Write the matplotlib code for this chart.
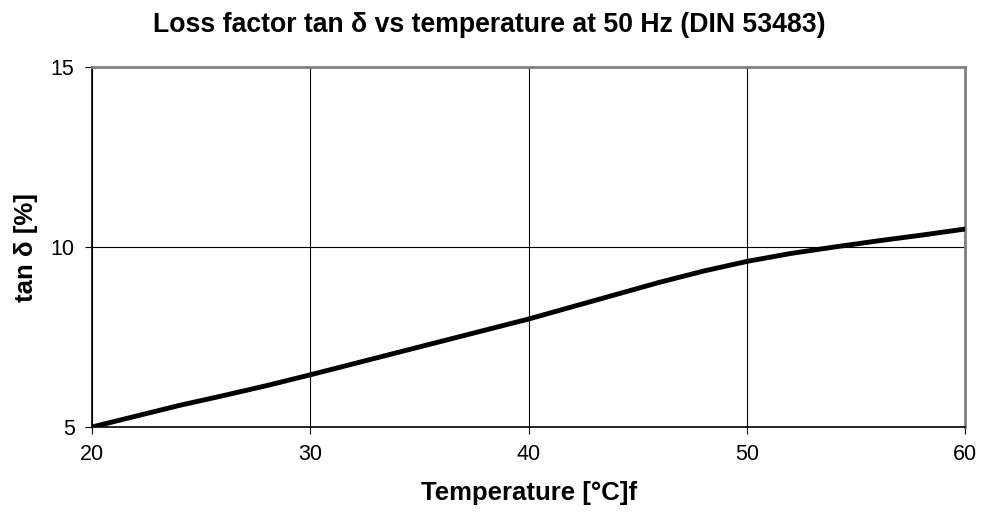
import matplotlib
matplotlib.use("Agg")
import matplotlib.pyplot as plt

plt.rcParams['font.family'] = ['Liberation Sans', 'DejaVu Sans']

temperature = [20, 22, 24, 26, 28, 30, 32, 34, 36, 38, 40, 42, 44, 46, 48, 50, 52, 54, 56, 58, 60]
tan_delta = [5.0, 5.3, 5.6, 5.87, 6.15, 6.45, 6.76, 7.07, 7.38, 7.69, 8.0, 8.34, 8.68, 9.02, 9.33, 9.6, 9.82, 10.0, 10.17, 10.33, 10.5]
xticks = [20, 30, 40, 50, 60]
yticks = [5, 10, 15]

fig = plt.figure(figsize=(9.89, 5.13), dpi=100)
ax = fig.add_axes([0.093, 0.1676, 0.883, 0.7018])

ax.plot(temperature, tan_delta, color='black', linewidth=3.5, solid_capstyle='round', zorder=3)
ax.set_xlim(20, 60)
ax.set_ylim(5, 15)
ax.set_xticks(xticks)
ax.set_yticks(yticks)
ax.grid(True, color='black', linewidth=0.8)
ax.tick_params(direction='out', length=5, width=0.8, labelsize=15.5, colors='black', pad=7.5)

for s in ['left', 'bottom']:
    ax.spines[s].set_color('black')
    ax.spines[s].set_linewidth(1.2)
for s in ['top', 'right']:
    ax.spines[s].set_color('#808080')
    ax.spines[s].set_linewidth(2)

fig.text(0.495, 1 - 32 / 513, 'Loss factor tan δ vs temperature at 50 Hz (DIN 53483)',
         fontsize=19.2, fontweight='bold', ha='center', va='baseline')
ax.set_xlabel('Temperature [°C]f', fontsize=18.5, fontweight='bold')
ax.xaxis.set_label_coords(0.5, (427 - 500) / 360)
ax.xaxis.label.set_verticalalignment('baseline')
ax.set_ylabel('tan δ [%]', fontsize=18.5, fontweight='bold')
ax.yaxis.set_label_coords((33 - 92) / 873, (427 - 247) / 360)
ax.yaxis.label.set_verticalalignment('baseline')
ax.yaxis.label.set_rotation_mode('anchor')

fig.savefig('out.png', dpi=100)
